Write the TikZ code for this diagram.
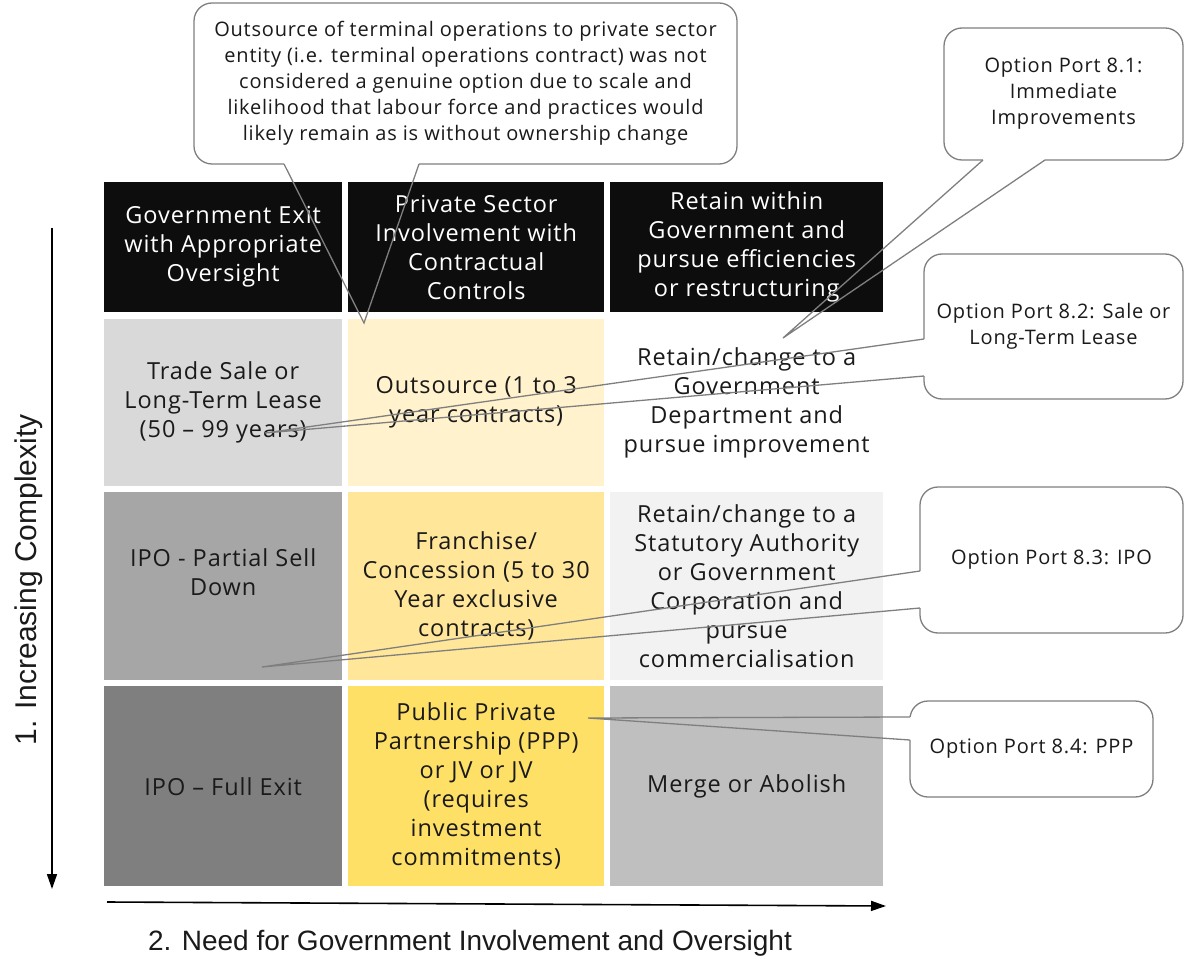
\documentclass[tikz,border=0pt]{standalone}
\usepackage{fontspec}
\setmainfont{Open Sans}[LetterSpace=4]
\newfontfamily\axisfont{Liberation Sans}
\usetikzlibrary{arrows.meta}

\definecolor{hdr}{HTML}{0D0D0D}
\definecolor{grayA}{HTML}{D9D9D9}
\definecolor{grayB}{HTML}{A6A6A6}
\definecolor{grayC}{HTML}{7F7F7F}
\definecolor{grayD}{HTML}{F2F2F2}
\definecolor{grayE}{HTML}{BFBFBF}
\definecolor{yelA}{HTML}{FFF2CC}
\definecolor{yelB}{HTML}{FFE699}
\definecolor{yelC}{HTML}{FFE066}
\definecolor{inkText}{HTML}{1A1A1A}
\definecolor{lineGray}{HTML}{7F7F7F}

\tikzset{
    cell/.style={anchor=north west, inner sep=0pt, align=center,
        text=inkText, font=\fontsize{23.5}{29}\selectfont},
    head/.style={cell, fill=hdr, text=white},
    bubble/.style={draw=lineGray, line width=1.3pt, rounded corners=18pt,
        fill=white, inner sep=0pt, align=center, text=inkText,
        font=\fontsize{20}{26}\selectfont},
    pointer/.style={draw=lineGray, line width=1.3pt, line join=miter},
    axis/.style={line width=1.6pt, -{Triangle[length=15pt,width=10pt]}},
    axislabel/.style={text=inkText, font=\axisfont\fontsize{28}{32}\selectfont},
}

\begin{document}
\begin{tikzpicture}[x=1pt,y=-1pt]

    \useasboundingbox (0,0) rectangle (1185,965);

    % column headers
    \node[head, minimum width=238pt, minimum height=130pt] (h1) at (104,182)
        {Government Exit\\with Appropriate\\Oversight};
    \node[head, minimum width=256pt, minimum height=130pt] (h2) at (348,182)
        {Private Sector\\Involvement with\\Contractual\\Controls};
    \node[head, minimum width=273pt, minimum height=130pt] (h3) at (610,182)
        {Retain within\\Government and\\pursue efficiencies\\or restructuring};

    % first row
    \node[cell, fill=grayA, minimum width=238pt, minimum height=167pt] (r11) at (104,319)
        {Trade Sale or\\Long-Term Lease\\(50 – 99 years)};
    \node[cell, fill=yelA, minimum width=256pt, minimum height=167pt] (r12) at (348,319)
        {Outsource (1 to 3\\year contracts)};
    \node[cell, minimum width=273pt, minimum height=167pt] (r13) at (610,319)
        {Retain/change to a\\Government\\Department and\\pursue improvement};

    % second row
    \node[cell, fill=grayB, minimum width=238pt, minimum height=188pt] (r21) at (104,492)
        {IPO - Partial Sell\\Down\\~};
    \node[cell, fill=yelB, minimum width=256pt, minimum height=188pt] (r22) at (348,492)
        {Franchise/\\Concession (5 to 30\\Year exclusive\\contracts)};
    \node[cell, fill=grayD, minimum width=273pt, minimum height=188pt] (r23) at (610,492)
        {Retain/change to a\\Statutory Authority\\or Government\\Corporation and\\pursue\\commercialisation};

    % third row
    \node[cell, fill=grayC, minimum width=238pt, minimum height=200pt] (r31) at (104,686)
        {IPO – Full Exit};
    \node[cell, fill=yelC, minimum width=256pt, minimum height=200pt] (r32) at (348,686)
        {Public Private\\Partnership (PPP)\\or JV or JV\\(requires\\investment\\commitments)};
    \node[cell, fill=grayE, minimum width=273pt, minimum height=200pt] (r33) at (610,686)
        {Merge or Abolish};

    % axes
    \coordinate (ytop) at (52,228);
    \coordinate (ybot) at (52,889);
    \coordinate (xleft) at (107,902);
    \coordinate (xright) at (886,906);
    \draw[axis] (ytop) -- (ybot);
    \draw[axis] (xleft) -- (xright);
    \node[axislabel, rotate=90, font=\axisfont\fontsize{30}{34}\selectfont] (ylab) at (29,580)
        {1. Increasing Complexity};
    \node[axislabel] (xlab) at (470,943) {2. Need for Government Involvement and Oversight};

    % callout boxes
    \node[bubble, minimum width=543pt, minimum height=161pt] (nb0) at (465.5,83.5)
        {Outsource of terminal operations to private sector\\entity (i.e. terminal operations contract) was not\\considered a genuine option due to scale and\\likelihood that labour force and practices would\\likely remain as is without ownership change};
    \node[bubble, minimum width=239pt, minimum height=132pt] (nb1) at (1063.5,94)
        {Option Port 8.1:\\Immediate\\Improvements};
    \node[bubble, minimum width=259pt, minimum height=145pt] (nb2) at (1053.5,326.5)
        {Option Port 8.2: Sale or\\Long-Term Lease};
    \node[bubble, minimum width=263pt, minimum height=146pt] (nb3) at (1051.5,560)
        {Option Port 8.3: IPO};
    \node[bubble, minimum width=243pt, minimum height=96pt] (nb4) at (1031.5,749)
        {Option Port 8.4: PPP};

    % pointer bases on the box edges and the tips
    \coordinate (b0a) at (284,164);  \coordinate (b0b) at (419,164);  \coordinate (t0) at (364,323);
    \coordinate (b1a) at (983,160);  \coordinate (b1b) at (1045,160); \coordinate (t1) at (783,338);
    \coordinate (b2a) at (924,339);  \coordinate (b2b) at (924,376);  \coordinate (t2) at (265,433);
    \coordinate (b3a) at (920,571);  \coordinate (b3b) at (920,608);  \coordinate (t3) at (262,667);
    \coordinate (b4a) at (910,717);  \coordinate (b4b) at (910,740);  \coordinate (t4) at (588,718);

    % open the border where each pointer leaves its box
    \foreach \b in {0,...,4}
        \draw[white, line width=3pt] (b\b a) -- (b\b b);

    \foreach \b in {0,...,4}
        \draw[pointer] (b\b a) -- (t\b) -- (b\b b);

\end{tikzpicture}
\end{document}
